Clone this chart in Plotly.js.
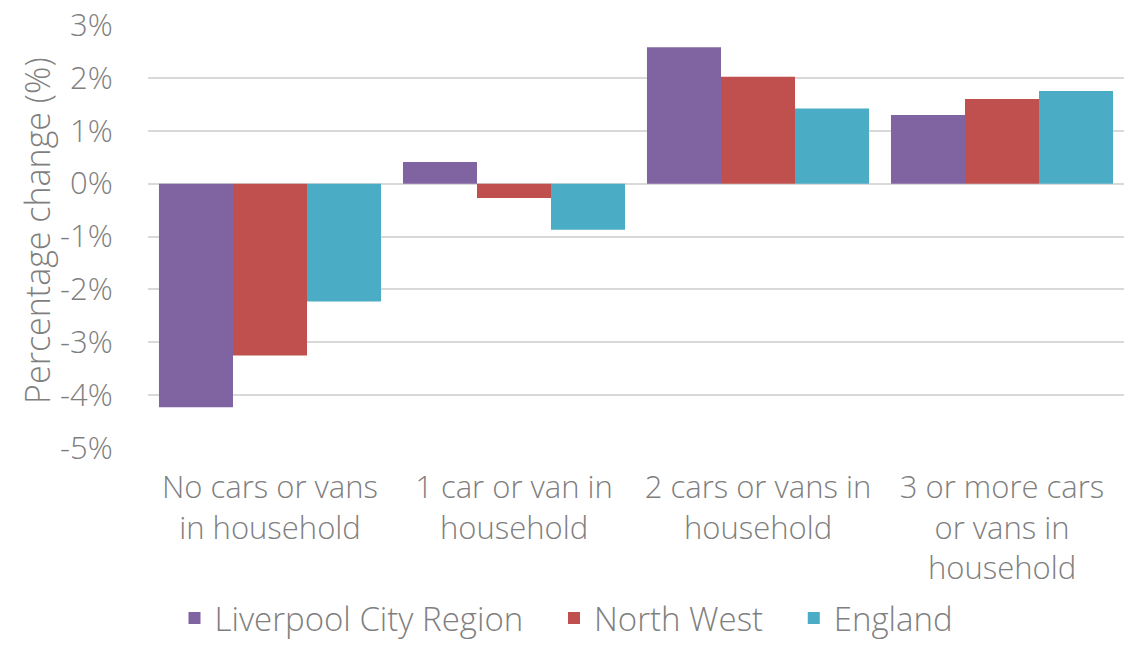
<!DOCTYPE html>
<html>
<head>
<meta charset="utf-8">
<script src="https://cdn.plot.ly/plotly-3.0.1.min.js"></script>
<style>html,body{margin:0;padding:0;background:#fff;}#chart{width:1133px;height:646px;}</style>
</head>
<body>
<div id="chart"></div>
<script>
const categories = [
  "No cars or vans<br>in household",
  "1 car or van in<br>household",
  "2 cars or vans in<br>household",
  "3 or more cars<br>or vans in<br>household"
];
const seriesNames = ["Liverpool City Region", "North West", "England"];
const liverpool = [-4.23, 0.41, 2.58, 1.30];
const northWest = [-3.25, -0.27, 2.02, 1.60];
const england = [-2.23, -0.87, 1.42, 1.75];
const yTicks = [3, 2, 1, 0, -1, -2, -3, -4, -5];
const yTickLabels = ["3%", "2%", "1%", "0%", "-1%", "-2%", "-3%", "-4%", "-5%"];

const FONT = "'Open Sans', 'Noto Sans', sans-serif";
const GREY = "#7f7f7f";
const PAD = "\u00a0\u00a0\u00a0";

const traces = [
  {type: "bar", name: seriesNames[0] + PAD, x: categories, y: liverpool, marker: {color: "#8064A2"}},
  {type: "bar", name: seriesNames[1] + PAD, x: categories, y: northWest, marker: {color: "#C0504D"}},
  {type: "bar", name: seriesNames[2], x: categories, y: england, marker: {color: "#4BACC6"}}
];

const layout = {
  width: 1133, height: 646,
  margin: {l: 148, r: 9, t: 25, b: 198},
  paper_bgcolor: "#fff", plot_bgcolor: "#fff",
  font: {family: FONT, color: GREY, size: 31, weight: 300},
  barmode: "group", bargap: 0.09, bargroupgap: 0,
  showlegend: true,
  legend: {
    orientation: "h", xref: "container", yref: "container",
    x: 0.5, xanchor: "center", y: 0.0, yanchor: "bottom",
    font: {size: 33, color: GREY, weight: 300}, itemwidth: 30, traceorder: "normal",
    tracegroupgap: 0, borderwidth: 0
  },
  xaxis: {
    type: "category", showgrid: false, zeroline: false, showline: false,
    ticks: "outside", ticklen: 12, tickcolor: "rgba(0,0,0,0)",
    tickfont: {size: 31, color: GREY, weight: 300}, automargin: false
  },
  yaxis: {
    range: [-5, 3], tickvals: yTicks, ticktext: yTickLabels,
    showgrid: true, gridcolor: "#d9d9d9", gridwidth: 2,
    zeroline: true, zerolinecolor: "#d9d9d9", zerolinewidth: 2,
    showline: false, ticks: "outside", ticklen: 28, tickcolor: "rgba(0,0,0,0)",
    tickfont: {size: 31, color: GREY, weight: 300}, automargin: false, fixedrange: true
  },
  annotations: [{
    text: "Percentage change (%)", xref: "paper", yref: "paper",
    x: -0.114, y: 0.515, xanchor: "center", yanchor: "middle",
    textangle: -90, showarrow: false, font: {size: 34, color: GREY, weight: 300}
  }]
};

Plotly.newPlot("chart", traces, layout, {displayModeBar: false, staticPlot: true});
</script>
</body>
</html>
